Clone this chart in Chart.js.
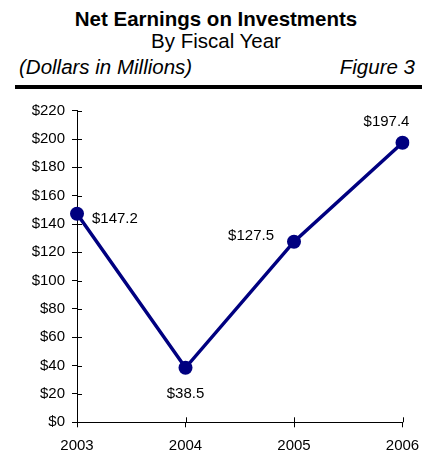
<!DOCTYPE html>
<html>
<head>
<meta charset="utf-8">
<script src="https://cdn.jsdelivr.net/npm/chart.js@4.4.1/dist/chart.umd.min.js"></script>
<style>
  html, body { margin: 0; padding: 0; background: #fff; }
  body { width: 432px; height: 458px; position: relative; overflow: hidden;
         font-family: "Liberation Sans", Arial, sans-serif; color: #000; }
  .hdr { position: absolute; left: 0; width: 432px; text-align: center; line-height: 21px; white-space: nowrap; }
  #title { top: 8px; font-size: 20.5px; font-weight: bold; }
  #subtitle { top: 29.5px; font-size: 20.5px; }
  #units { position: absolute; left: 19px; top: 56px; font-size: 20.5px; font-style: italic; line-height: 21px; }
  #fig { position: absolute; right: 17px; top: 56px; font-size: 20.5px; font-style: italic; line-height: 21px; }
  #rule { position: absolute; left: 15px; width: 407px; top: 85px; height: 3.5px; background: #000; }
  #wrap { position: absolute; left: 0; top: 90px; width: 432px; height: 368px; }
</style>
</head>
<body>
<div id="title" class="hdr">Net Earnings on Investments</div>
<div id="subtitle" class="hdr">By Fiscal Year</div>
<div id="units">(Dollars in Millions)</div>
<div id="fig">Figure 3</div>
<div id="rule"></div>
<div id="wrap"><canvas id="chart"></canvas></div>

<script>
const years = ['2003', '2004', '2005', '2006'];
const earnings = [147.2, 38.5, 127.5, 197.4];
const yMax = 220;
const yStep = 20;

// where each value label sits relative to its point
const labelSpots = [
  { align: 'left', dx: 15, dy: 5 },
  { align: 'center', dx: 0, dy: 26 },
  { align: 'right', dx: -20, dy: -6 },
  { align: 'center', dx: -16, dy: -21 }
];

const FONT = '"Liberation Sans", Arial, sans-serif';
const NAVY = '#000080';

// ticks that also poke into the plot area, like the old spreadsheet style
const crossTicks = {
  id: 'crossTicks',
  afterDatasetsDraw(chart) {
    const { ctx, scales: { x, y } } = chart;
    ctx.save();
    ctx.strokeStyle = '#000';
    ctx.lineWidth = 1;
    ctx.beginPath();
    x.ticks.forEach((t, i) => {
      const px = Math.round(x.getPixelForTick(i)) + 0.5;
      ctx.moveTo(px, y.bottom);
      ctx.lineTo(px, y.bottom - 5);
    });
    y.ticks.forEach((t, i) => {
      const py = Math.round(y.getPixelForTick(i)) + 0.5;
      ctx.moveTo(x.left, py);
      ctx.lineTo(x.left + 5, py);
    });
    ctx.stroke();
    ctx.restore();
  }
};

const valueLabels = {
  id: 'valueLabels',
  afterDatasetsDraw(chart) {
    const { ctx } = chart;
    const meta = chart.getDatasetMeta(0);
    ctx.save();
    ctx.font = '15px ' + FONT;
    ctx.fillStyle = '#000';
    ctx.textBaseline = 'middle';
    meta.data.forEach((pt, i) => {
      const spot = labelSpots[i];
      ctx.textAlign = spot.align;
      ctx.fillText('$' + earnings[i].toFixed(1), pt.x + spot.dx, pt.y + spot.dy);
    });
    ctx.restore();
  }
};

new Chart(document.getElementById('chart'), {
  type: 'line',
  data: {
    labels: years,
    datasets: [{
      data: earnings,
      borderColor: NAVY,
      backgroundColor: NAVY,
      borderWidth: 3.5,
      pointRadius: 7,
      pointHoverRadius: 7,
      pointBackgroundColor: NAVY,
      pointBorderWidth: 0,
      tension: 0
    }]
  },
  options: {
    responsive: true,
    maintainAspectRatio: false,
    animation: false,
    layout: { padding: { left: 0, right: 29.5, top: 20.7, bottom: 0 } },
    plugins: {
      legend: { display: false },
      tooltip: { enabled: false }
    },
    scales: {
      x: {
        offset: false,
        afterFit(scale) { scale.height = 35.7; },
        grid: { display: true, drawOnChartArea: false, tickLength: 5, color: '#000', lineWidth: 1 },
        border: { display: true, color: '#000', width: 1 },
        ticks: { color: '#000', font: { family: FONT, size: 15 }, padding: 10, maxRotation: 0 }
      },
      y: {
        min: 0,
        max: yMax,
        afterFit(scale) { scale.width = 77; },
        grid: { display: true, drawOnChartArea: false, tickLength: 5, color: '#000', lineWidth: 1 },
        border: { display: true, color: '#000', width: 1 },
        ticks: {
          stepSize: yStep,
          color: '#000',
          font: { family: FONT, size: 15 },
          padding: 7,
          callback: v => '$' + v
        }
      }
    }
  },
  plugins: [crossTicks, valueLabels]
});
</script>
</body>
</html>
